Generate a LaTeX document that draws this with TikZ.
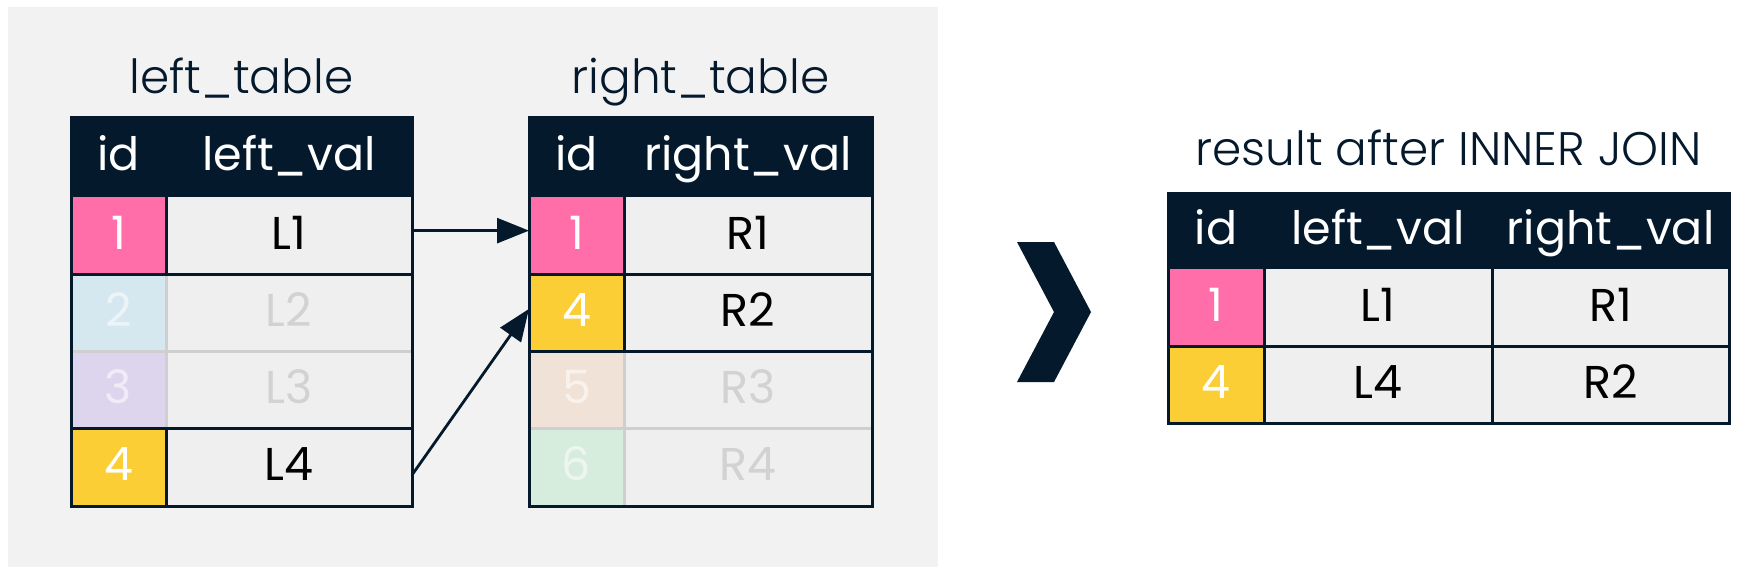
\documentclass[tikz,border=0pt]{standalone}
\usepackage{fontspec}
\setmainfont{Poppins}
\newfontfamily\lightfont{Poppins Light}
\usetikzlibrary{arrows.meta,calc}
\definecolor{navy}{HTML}{05192D}
\definecolor{pinkc}{HTML}{FF6EA9}
\definecolor{yellowc}{HTML}{FBCE36}
\definecolor{cellgray}{HTML}{EFEFEF}
\definecolor{bggray}{HTML}{F2F2F2}
\definecolor{fadeblue}{HTML}{D5E8EF}
\definecolor{fadelav}{HTML}{DDD5EE}
\definecolor{fadepeach}{HTML}{F1E2D7}
\definecolor{fademint}{HTML}{D6EDDD}
\definecolor{fadeline}{HTML}{CFCFCF}
\definecolor{fadetext}{HTML}{D2D2D2}
\begin{document}
\begin{tikzpicture}[x=0.5pt,y=-0.5pt,
  cell/.style={rectangle, inner sep=0pt, outer sep=0pt, text height=17pt, text depth=3.5pt,
    font=\fontsize{23}{27}\selectfont, minimum height=38.625pt},
  hdr/.style={cell, fill=navy, text=white, minimum height=40pt},
  rhdr/.style={cell, fill=navy, text=white, minimum height=38pt},
  rrow/.style={cell, minimum height=38.5pt},
  onid/.style={text=white},
  onval/.style={fill=cellgray, text=black},
  offid/.style={text=white, text opacity=0.55},
  offval/.style={fill=cellgray, text=fadetext},
  title/.style={inner sep=0pt, font=\lightfont\fontsize{23.5}{27}\selectfont, text=navy, anchor=base},
  darkline/.style={draw=navy, line width=1.5pt},
  lightline/.style={draw=fadeline, line width=1.5pt},
  conn/.style={draw=navy, line width=1.4pt, -{Triangle[length=16pt,width=12.5pt]}}
]
\useasboundingbox (0,0) rectangle (1747,575);
\fill[white] (0,0) rectangle (1747,575);
\fill[bggray] (8,7) rectangle (938,567);

% titles
\node[title] (tleft) at (241.5,93.5) {left\_table};
\node[title] (tright) at (700.5,93.5) {right\_table};
\node[title] (tres) at (1448.5,165) {result after INNER JOIN};

% left table
\node[hdr, minimum width=47.5pt] (lhid) at (118.5,157) {id};
\node[hdr, minimum width=123pt] (lhval) at (289,157) {left\_val};
\node[cell, onid, fill=pinkc, minimum width=47.5pt] (l1id) at (118.5,235.625) {1};
\node[cell, onval, minimum width=123pt] (l1val) at (289,235.625) {L1};
\node[cell, offid, fill=fadeblue, minimum width=47.5pt] (l2id) at (118.5,312.875) {2};
\node[cell, offval, minimum width=123pt] (l2val) at (289,312.875) {L2};
\node[cell, offid, fill=fadelav, minimum width=47.5pt] (l3id) at (118.5,390.125) {3};
\node[cell, offval, minimum width=123pt] (l3val) at (289,390.125) {L3};
\node[cell, onid, fill=yellowc, minimum width=47.5pt] (l4id) at (118.5,467.375) {4};
\node[cell, onval, minimum width=123pt] (l4val) at (289,467.375) {L4};

\draw[lightline] (l2id.north east) -- (l3id.south east);
\draw[lightline] (l2id.south west) -- (l2val.south east);
\draw[darkline] (l1id.north east) -- (l1id.south east);
\draw[darkline] (l1id.south west) -- (l1val.south east);
\draw[darkline] (l4id.north west) -- (l4val.north east);
\draw[darkline] (l4id.north east) -- (l4id.south east);
\draw[darkline] (lhid.north west) rectangle (l4val.south east);

% right table
\node[hdr, minimum width=47.5pt] (rhid) at (576.5,157) {id};
\node[hdr, minimum width=124pt] (rhval) at (748,157) {right\_val};
\node[cell, onid, fill=pinkc, minimum width=47.5pt] (r1id) at (576.5,235.625) {1};
\node[cell, onval, minimum width=124pt] (r1val) at (748,235.625) {R1};
\node[cell, onid, fill=yellowc, minimum width=47.5pt] (r2id) at (576.5,312.875) {4};
\node[cell, onval, minimum width=124pt] (r2val) at (748,312.875) {R2};
\node[cell, offid, fill=fadepeach, minimum width=47.5pt] (r3id) at (576.5,390.125) {5};
\node[cell, offval, minimum width=124pt] (r3val) at (748,390.125) {R3};
\node[cell, offid, fill=fademint, minimum width=47.5pt] (r4id) at (576.5,467.375) {6};
\node[cell, offval, minimum width=124pt] (r4val) at (748,467.375) {R4};

\draw[lightline] (r3id.north east) -- (r4id.south east);
\draw[lightline] (r3id.south west) -- (r3val.south east);
\draw[darkline] (r1id.north east) -- (r2id.south east);
\draw[darkline] (r1id.south west) -- (r1val.south east);
\draw[darkline] (r2id.south west) -- (r2val.south east);
\draw[darkline] (rhid.north west) rectangle (r4val.south east);

% connectors
\draw[conn] ([yshift=2.5pt]l1val.east) -- ([yshift=2.5pt]r1id.west);
\draw[conn] ([yshift=-3.8pt]l4val.east) -- ([yshift=2pt]r2id.west);

% chevron
\fill[navy] (1017,242) -- (1054,242) -- (1091,312) -- (1054,382) -- (1017,382) -- (1054,312) -- cycle;

% result table
\node[rhdr, minimum width=48pt] (xhid) at (1216,231) {id};
\node[rhdr, minimum width=114pt] (xhl) at (1378,231) {left\_val};
\node[rhdr, minimum width=118.5pt] (xhr) at (1610.5,231) {right\_val};
\node[rrow, onid, fill=pinkc, minimum width=48pt] (x1id) at (1216,307.5) {1};
\node[rrow, onval, minimum width=114pt] (x1l) at (1378,307.5) {L1};
\node[rrow, onval, minimum width=118.5pt] (x1r) at (1610.5,307.5) {R1};
\node[rrow, onid, fill=yellowc, minimum width=48pt] (x2id) at (1216,384.5) {4};
\node[rrow, onval, minimum width=114pt] (x2l) at (1378,384.5) {L4};
\node[rrow, onval, minimum width=118.5pt] (x2r) at (1610.5,384.5) {R2};

\draw[darkline] (x1id.north east) -- (x2id.south east);
\draw[darkline] (x1l.north east) -- (x2l.south east);
\draw[darkline] (x1id.south west) -- (x1r.south east);
\draw[darkline] (xhid.north west) rectangle (x2r.south east);
\end{tikzpicture}
\end{document}
